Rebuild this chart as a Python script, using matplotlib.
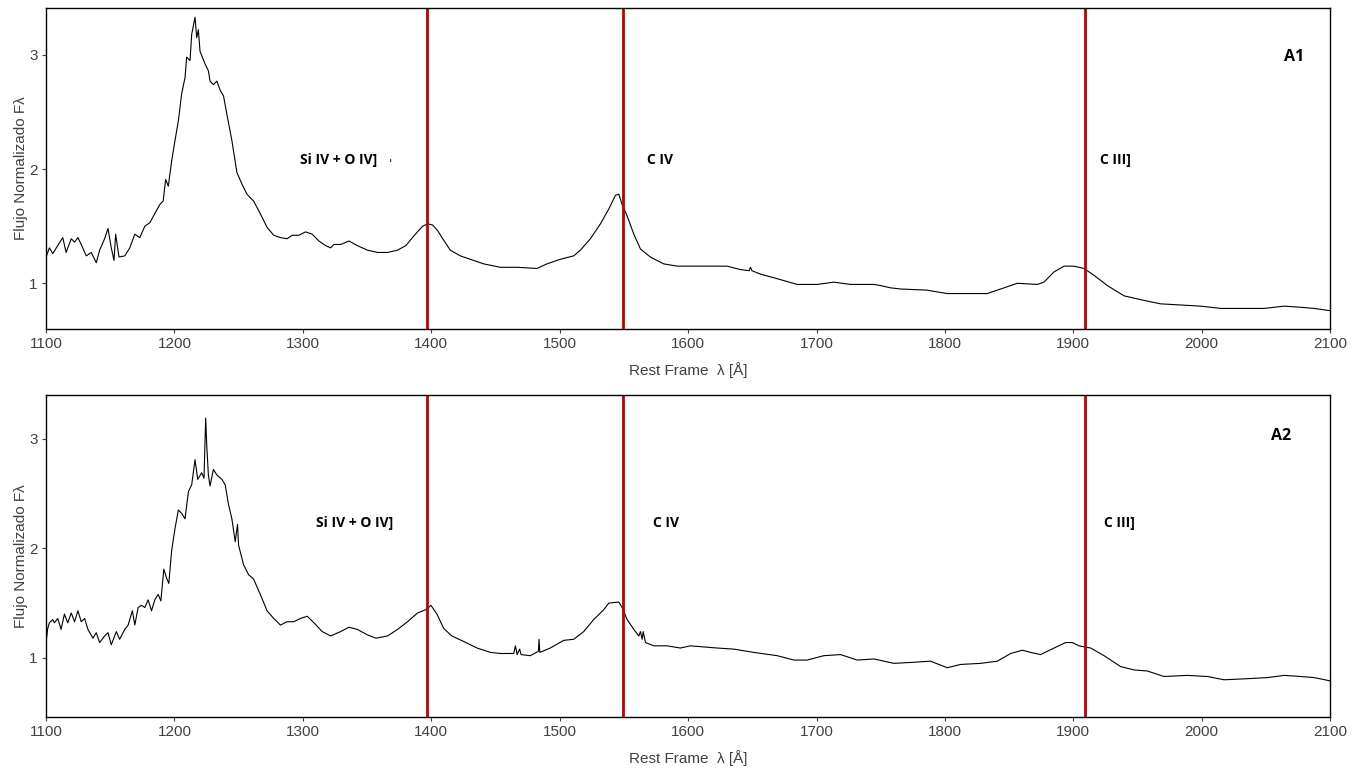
#------------Imports----------------------------------#
import matplotlib
matplotlib.use("Agg")
import matplotlib.pyplot as plt
#-----------------------------------------------------#

#----Data (rest frame wavelength, normalized flux)----#
wave_a1 = [1100, 1102.6, 1105.2, 1109.1, 1113.0, 1115.6, 1119.6, 1122.2, 1124.8, 1127.4,
           1131.3, 1135.2, 1139.1, 1141.7, 1145.6, 1148.2, 1150.8, 1152.9, 1154.2, 1156.8,
           1161.3, 1165.2, 1169.1, 1173.0, 1176.9, 1180.8, 1184.7, 1188.6, 1191.2, 1193.1,
           1195.2, 1197.8, 1200.4, 1203.0, 1205.6, 1208.2, 1209.5, 1212.1, 1213.4, 1216.0,
           1217.3, 1218.6, 1219.9, 1223.8, 1226.4, 1227.7, 1230.3, 1233.0, 1235.6, 1238.2,
           1240.8, 1244.7, 1248.6, 1252.5, 1256.4, 1261.6, 1266.8, 1272.1, 1277.3, 1282.5,
           1287.7, 1291.6, 1296.8, 1302.0, 1307.2, 1312.5, 1317.7, 1321.6, 1324.2, 1329.4,
           1335.9, 1342.4, 1350.3, 1358.1, 1365.9, 1373.7, 1380.2, 1386.8, 1393.3, 1397.2,
           1401.1, 1405.0, 1408.9, 1414.8, 1422.6, 1430.4, 1440.8, 1453.8, 1466.8, 1482.3,
           1490.1, 1500.5, 1510.9, 1516.1, 1523.9, 1531.7, 1538.2, 1543.4, 1546.0, 1548.6,
           1552.5, 1557.7, 1562.9, 1570.6, 1581.0, 1591.4, 1609.6, 1630.4, 1640.8, 1647.5,
           1648.6, 1649.7, 1656.4, 1669.4, 1685.0, 1700.5, 1713.5, 1726.5, 1744.7, 1749.9,
           1757.7, 1765.5, 1786.0, 1801.8, 1814.8, 1833.0, 1843.4, 1856.4, 1872.0, 1877.1,
           1885.0, 1892.7, 1900.5, 1908.3, 1916.1, 1926.5, 1939.5, 1955.1, 1968.0, 1983.6,
           1999.2, 2014.8, 2030.4, 2048.6, 2064.2, 2077.1, 2087.5, 2100]
flux_a1 = [1.23, 1.31, 1.26, 1.33, 1.40, 1.27, 1.39, 1.36, 1.40, 1.34,
           1.24, 1.27, 1.18, 1.29, 1.39, 1.48, 1.31, 1.20, 1.43, 1.23,
           1.24, 1.31, 1.43, 1.40, 1.50, 1.53, 1.61, 1.69, 1.72, 1.91,
           1.85, 2.07, 2.25, 2.42, 2.66, 2.80, 2.98, 2.95, 3.18, 3.33,
           3.15, 3.22, 3.03, 2.92, 2.86, 2.77, 2.74, 2.77, 2.69, 2.64,
           2.48, 2.25, 1.97, 1.87, 1.78, 1.72, 1.61, 1.49, 1.42, 1.40,
           1.39, 1.42, 1.42, 1.45, 1.43, 1.37, 1.33, 1.31, 1.34, 1.34,
           1.37, 1.33, 1.29, 1.27, 1.27, 1.29, 1.33, 1.42, 1.50, 1.52,
           1.51, 1.46, 1.39, 1.29, 1.24, 1.21, 1.17, 1.14, 1.14, 1.13,
           1.17, 1.21, 1.24, 1.29, 1.39, 1.52, 1.65, 1.77, 1.78, 1.69,
           1.59, 1.43, 1.30, 1.23, 1.17, 1.15, 1.15, 1.15, 1.12, 1.11,
           1.14, 1.11, 1.08, 1.04, 0.99, 0.99, 1.01, 0.99, 0.99, 0.98,
           0.96, 0.95, 0.94, 0.91, 0.91, 0.91, 0.95, 1.00, 0.99, 1.01,
           1.10, 1.15, 1.15, 1.13, 1.07, 0.98, 0.89, 0.85, 0.82, 0.81,
           0.80, 0.78, 0.78, 0.78, 0.80, 0.79, 0.78, 0.76]

wave_a2 = [1100, 1101.3, 1102.6, 1105.2, 1106.5, 1109.1, 1111.7, 1114.3, 1116.9, 1119.6,
           1122.2, 1124.8, 1127.4, 1130.0, 1132.6, 1136.5, 1139.1, 1141.7, 1145.6, 1148.2,
           1150.8, 1154.7, 1157.3, 1161.3, 1163.9, 1167.2, 1169.1, 1171.7, 1174.3, 1176.9,
           1179.5, 1182.1, 1184.7, 1187.3, 1189.4, 1191.7, 1193.8, 1195.6, 1197.8, 1200.4,
           1203.0, 1205.6, 1208.2, 1210.9, 1213.4, 1216.0, 1218.1, 1221.2, 1223.0, 1224.3,
           1225.1, 1226.4, 1227.7, 1230.3, 1233.0, 1236.9, 1239.5, 1242.1, 1244.7, 1247.3,
           1249.1, 1249.9, 1253.8, 1257.7, 1261.6, 1266.8, 1272.1, 1277.3, 1282.5, 1287.7,
           1292.9, 1298.1, 1303.4, 1308.6, 1315.1, 1321.6, 1329.4, 1335.9, 1342.4, 1350.3,
           1356.8, 1365.9, 1373.7, 1381.5, 1389.3, 1395.8, 1399.7, 1404.4, 1409.6, 1416.0,
           1425.2, 1435.6, 1446.0, 1453.8, 1464.2, 1465.5, 1466.8, 1468.8, 1469.9, 1477.1,
           1483.4, 1483.9, 1484.5, 1492.7, 1503.1, 1510.9, 1518.7, 1526.5, 1534.3, 1538.2,
           1546.0, 1548.6, 1552.5, 1557.7, 1561.6, 1562.9, 1564.2, 1565.0, 1566.8, 1573.3,
           1583.6, 1594.0, 1601.8, 1622.6, 1635.6, 1651.2, 1669.4, 1682.4, 1692.7, 1705.7,
           1718.7, 1731.7, 1744.7, 1760.3, 1775.8, 1788.8, 1801.8, 1812.2, 1827.8, 1840.8,
           1851.2, 1860.3, 1866.8, 1874.5, 1885.0, 1894.0, 1899.2, 1904.4, 1913.5, 1923.9,
           1936.9, 1947.3, 1957.7, 1970.6, 1988.8, 2004.4, 2017.4, 2035.6, 2051.2, 2064.2,
           2077.1, 2087.5, 2100]
flux_a2 = [1.14, 1.27, 1.32, 1.35, 1.32, 1.36, 1.26, 1.40, 1.32, 1.41,
           1.33, 1.43, 1.33, 1.36, 1.26, 1.18, 1.23, 1.14, 1.20, 1.23,
           1.12, 1.24, 1.17, 1.26, 1.30, 1.43, 1.30, 1.46, 1.48, 1.46,
           1.53, 1.43, 1.53, 1.58, 1.52, 1.81, 1.73, 1.68, 1.98, 2.18,
           2.35, 2.32, 2.27, 2.52, 2.58, 2.81, 2.63, 2.69, 2.64, 3.19,
           2.95, 2.67, 2.57, 2.72, 2.67, 2.63, 2.58, 2.40, 2.27, 2.06,
           2.22, 2.03, 1.85, 1.76, 1.72, 1.58, 1.43, 1.36, 1.30, 1.33,
           1.33, 1.36, 1.38, 1.32, 1.24, 1.20, 1.24, 1.28, 1.26, 1.21,
           1.18, 1.20, 1.26, 1.33, 1.41, 1.44, 1.48, 1.40, 1.27, 1.20,
           1.15, 1.09, 1.05, 1.04, 1.04, 1.11, 1.03, 1.08, 1.03, 1.02,
           1.06, 1.17, 1.05, 1.09, 1.16, 1.17, 1.24, 1.35, 1.44, 1.50,
           1.51, 1.46, 1.35, 1.26, 1.20, 1.24, 1.17, 1.24, 1.14, 1.11,
           1.11, 1.09, 1.11, 1.09, 1.08, 1.05, 1.02, 0.98, 0.98, 1.02,
           1.03, 0.98, 0.99, 0.95, 0.96, 0.97, 0.91, 0.94, 0.95, 0.97,
           1.04, 1.07, 1.05, 1.03, 1.09, 1.14, 1.14, 1.11, 1.09, 1.02,
           0.92, 0.89, 0.88, 0.83, 0.84, 0.83, 0.80, 0.81, 0.82, 0.84,
           0.83, 0.82, 0.79]

line_waves = [1397, 1549, 1909]                          # Si IV + O IV], C IV, C III]
line_names = ["Si IV + O IV]", "C IV", "C III]"]
label_x_a1 = [1298, 1568, 1921]
label_x_a2 = [1310, 1573, 1924]
label_y_a1 = 2.08
label_y_a2 = 2.23
panel_names = ["A1", "A2"]
#------------------------------------------------------------------------------------#

plot = plt.figure(figsize=(13.63, 7.69), dpi=100)
axes_top = plot.add_axes([0.0338, 0.5722, 0.9421, 0.4174])
axes_bot = plot.add_axes([0.0338, 0.0676, 0.9421, 0.4187])

tick_font = dict(family="Liberation Sans", size=11, color="#404040")
label_font = dict(family="Liberation Sans", size=11, color="#404040")
note_font = dict(family="Open Sans", size=10, weight="bold", color="black")

panels = [(axes_top, wave_a1, flux_a1, label_x_a1, label_y_a1, (0.6, 3.41), 2.98),
          (axes_bot, wave_a2, flux_a2, label_x_a2, label_y_a2, (0.46, 3.40), 3.03)]

for k, (ax, w, f, lx, ly, ylim, name_y) in enumerate(panels):
    ax.plot(w, f, color="black", linewidth=0.8)
    for lw_, nm, x in zip(line_waves, line_names, lx):
        ax.axvline(lw_, color="#c00000", linewidth=2.0)
        ax.text(x, ly, nm, ha="left", va="center", **note_font)
    ax.text(2064 if k == 0 else 2054, name_y, panel_names[k], ha="left", va="center",
            family="Open Sans", size=11.5, weight="bold")
    ax.set_xlim(1100, 2100)
    ax.set_ylim(*ylim)
    ax.set_xticks(range(1100, 2101, 100))
    ax.set_yticks([1, 2, 3])
    ax.set_xticklabels([str(v) for v in range(1100, 2101, 100)], **tick_font)
    ax.set_yticklabels(["1", "2", "3"], **tick_font)
    ax.tick_params(length=3, width=0.8, color="#404040", pad=3)
    for s in ax.spines.values():
        s.set_linewidth(1.0)
    ax.set_xlabel("Rest Frame  λ [Å]", labelpad=8, **label_font)
    ax.set_ylabel("Flujo Normalizado Fλ", labelpad=1, **label_font)

# small stray mark next to the first label in the top panel
axes_top.text(1367, 2.04, "ˈ", ha="left", va="center", size=9, color="black")

plot.savefig("out.png", dpi=100)
